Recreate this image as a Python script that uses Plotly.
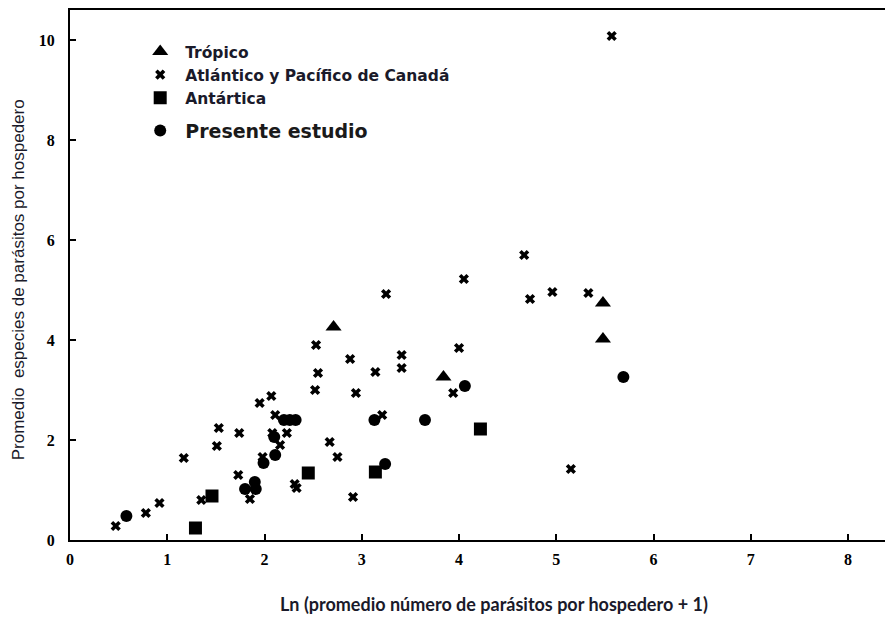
import plotly.graph_objects as go

# Atlántico y Pacífico de Canadá (crosses)
canada_x = [0.47, 0.78, 0.92, 1.17, 1.35, 1.51, 1.53, 1.74, 1.73, 1.85, 1.95, 2.07, 2.11, 2.08,
            2.23, 2.16, 1.98, 2.31, 2.33, 2.53, 2.55, 2.52, 2.67, 2.75, 2.88, 2.94, 2.91, 3.14,
            3.21, 3.25, 3.41, 3.41, 4.00, 4.05, 3.94, 4.67, 4.73, 4.96, 5.33, 5.15, 5.57]
canada_y = [0.28, 0.54, 0.74, 1.64, 0.80, 1.88, 2.24, 2.14, 1.30, 0.82, 2.74, 2.88, 2.50, 2.14,
            2.14, 1.90, 1.66, 1.12, 1.04, 3.90, 3.34, 3.00, 1.96, 1.66, 3.62, 2.94, 0.86, 3.36,
            2.50, 4.92, 3.70, 3.44, 3.84, 5.22, 2.94, 5.70, 4.82, 4.96, 4.94, 1.42, 10.08]

# Trópico (triangles)
tropico_x = [2.71, 3.84, 5.48, 5.48]
tropico_y = [4.26, 3.26, 4.74, 4.02]

# Antártica (squares)
antartica_x = [1.29, 1.46, 2.45, 3.14, 4.22]
antartica_y = [0.24, 0.88, 1.34, 1.36, 2.22]

# Presente estudio (circles)
presente_x = [0.58, 1.80, 1.90, 1.91, 1.99, 2.11, 2.10, 2.20, 2.26, 2.32, 3.13, 3.24, 3.65, 4.06, 5.69]
presente_y = [0.48, 1.02, 1.16, 1.02, 1.54, 1.70, 2.06, 2.40, 2.40, 2.40, 2.40, 1.52, 2.40, 3.08, 3.26]

x_ticks = [0, 1, 2, 3, 4, 5, 6, 7, 8]
y_ticks = [0, 2, 4, 6, 8, 10]

fig = go.Figure()
fig.add_trace(go.Scatter(x=tropico_x, y=tropico_y, mode="markers", name="Trópico",
                         marker=dict(symbol="triangle-up", size=14, color="black")))
fig.add_trace(go.Scatter(x=canada_x, y=canada_y, mode="markers", name="Atlántico y Pacífico de Canadá",
                         marker=dict(symbol="x", size=9, color="black")))
fig.add_trace(go.Scatter(x=antartica_x, y=antartica_y, mode="markers", name="Antártica",
                         marker=dict(symbol="square", size=13, color="black")))
fig.add_trace(go.Scatter(x=presente_x, y=presente_y, mode="markers",
                         name="Presente estudio", legend="legend2",
                         marker=dict(symbol="circle", size=12, color="black")))

tickfont = dict(family="Liberation Serif", size=16, color="black", weight="bold")

fig.update_layout(
    width=885, height=621,
    margin=dict(l=70, r=0, t=10, b=81),
    paper_bgcolor="white", plot_bgcolor="white",
    showlegend=True,
    legend=dict(x=0.08, y=0.953, xanchor="left", yanchor="top", bgcolor="rgba(0,0,0,0)",
                font=dict(family="DejaVu Sans", size=15.5, color="#1a1a2a", weight="bold"),
                itemwidth=40),
    legend2=dict(x=0.08, y=0.808, xanchor="left", yanchor="top", bgcolor="rgba(0,0,0,0)",
                 font=dict(family="DejaVu Sans", size=19, color="#1a1a1a", weight="bold"),
                 itemwidth=40),
    xaxis=dict(range=[0, 8.38], tickvals=x_ticks, ticks="inside", ticklen=6, tickwidth=1.5,
               tickcolor="black", showline=True, linecolor="black", linewidth=2, mirror=True,
               showgrid=False, zeroline=False, tickfont=tickfont, ticklabelstandoff=4),
    yaxis=dict(range=[0, 10.6], tickvals=y_ticks, ticks="inside", ticklen=6, tickwidth=1.5,
               tickcolor="black", showline=True, linecolor="black", linewidth=2,
               showgrid=False, zeroline=False, tickfont=tickfont, ticklabelstandoff=10),
    annotations=[
        dict(text="Ln (promedio número de parásitos por hospedero + 1)",
             xref="paper", yref="paper", x=0.52, y=0, yshift=-64, showarrow=False,
             xanchor="center", yanchor="middle",
             font=dict(family="Lato", size=18, color="#1a1a2a", weight="bold")),
        dict(text="Promedio  especies de parásitos por hospedero",
             xref="paper", yref="paper", x=0, y=0.49, xshift=-52, showarrow=False, textangle=-90,
             xanchor="center", yanchor="middle",
             font=dict(family="Liberation Sans", size=17, color="#1a1a2a")),
    ],
)

fig.write_html("out.html")
